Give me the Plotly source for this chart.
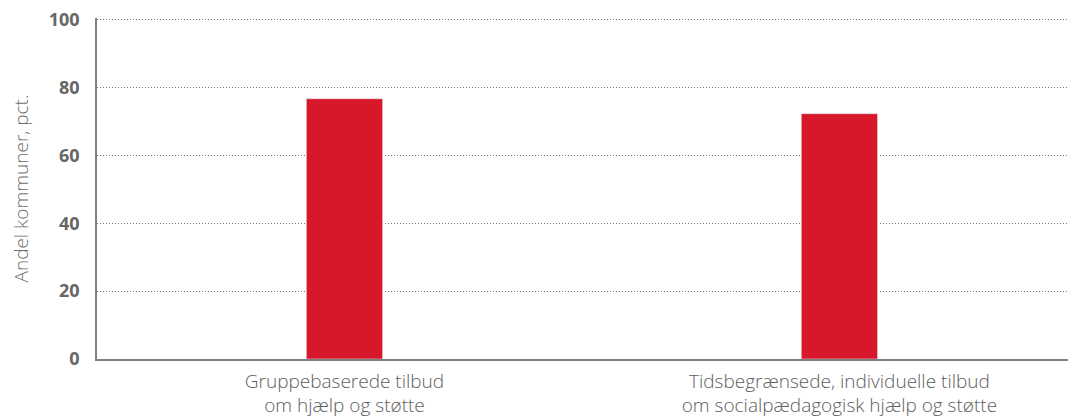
import plotly.graph_objects as go

categories = ["Gruppebaserede tilbud<br>om hjælp og støtte",
              "Tidsbegrænsede, individuelle tilbud<br>om socialpædagogisk hjælp og støtte"]
values = [76.7, 72.3]
tick_vals = [0, 20, 40, 60, 80, 100]

fig = go.Figure(go.Bar(x=categories, y=values, marker_color="#D7182A", width=0.154))

fig.update_layout(
    width=1068, height=409,
    margin=dict(l=89, r=0, t=10, b=58, autoexpand=False),
    paper_bgcolor="white", plot_bgcolor="white",
    showlegend=False,
    font=dict(family="Open Sans", color="#666666"),
)
fig.update_xaxes(
    range=[-0.5, 1.478],
    showline=True, linecolor="#808080", linewidth=1.5,
    tickfont=dict(size=19, color="#5e5e5e", weight=300),
    ticks="", showgrid=False, automargin=False,
    ticklabelstandoff=4,
)
fig.update_yaxes(
    range=[0, 100.5], tickvals=tick_vals,
    showline=True, linecolor="#808080", linewidth=1.5,
    showgrid=True, gridcolor="#777777", griddash="1px,2px", gridwidth=1,
    tickfont=dict(size=18, color="#666666", family="Open Sans", weight="bold"),
    ticklabelstandoff=12, ticklabeloverflow="allow",
    title=dict(text="Andel kommuner, pct.", font=dict(size=19, color="#6e6e6e", weight=300), standoff=34),
    zeroline=False, automargin=False,
)
fig.write_html("out.html")
